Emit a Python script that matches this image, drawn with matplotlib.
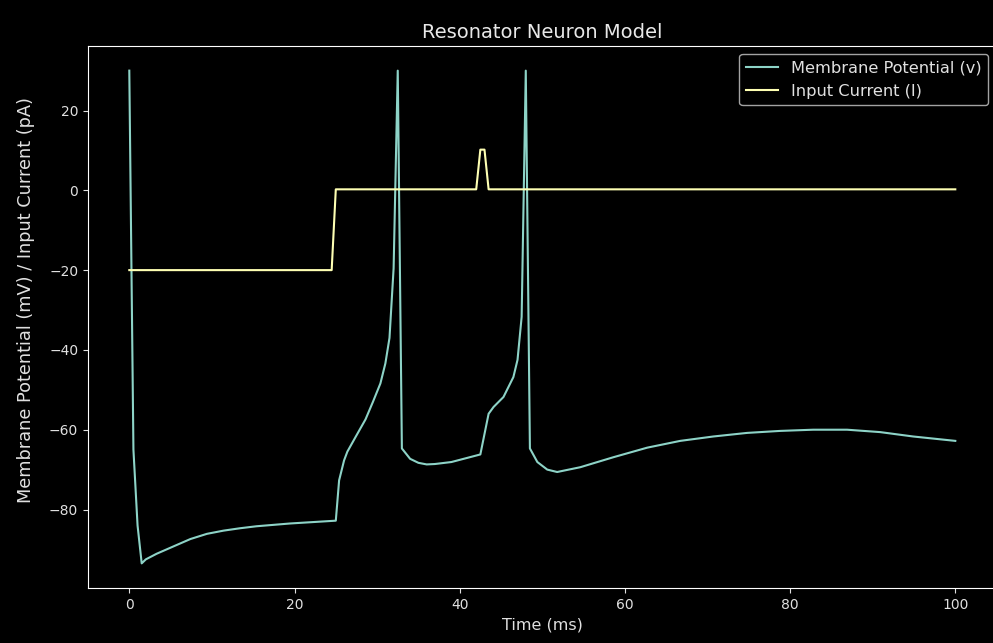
import matplotlib
matplotlib.use("Agg")
import matplotlib.pyplot as plt

plt.style.use("dark_background")

# Membrane potential (mV)
t_v = [0, 0.5, 1.0, 1.5, 2.0, 3.3, 5.4, 7.4, 9.4, 11.4, 13.4, 15.4, 19.5, 25.0,
       25.4, 26.0, 26.4, 27.4, 28.6, 29.5, 30.4, 31.0, 31.5, 32.0, 32.5,
       33.0, 34.0, 35.0, 36.0, 37.0, 39.0, 42.5, 43.5, 44.1, 45.3, 46.5, 47.0, 47.5, 48.0,
       48.5, 49.4, 50.6, 51.8, 54.6, 58.6, 62.7, 66.7, 70.7, 74.8, 78.8, 82.8,
       86.9, 90.9, 94.9, 100.0]
v = [30, -65, -84, -93.5, -92.5, -91.1, -89.2, -87.4, -86.1, -85.3, -84.7, -84.2, -83.5, -82.8,
     -72.7, -67.7, -65.5, -61.8, -57.4, -53.0, -48.4, -43.4, -37.0, -19.5, 30,
     -64.7, -67.3, -68.3, -68.7, -68.6, -68.1, -66.2, -56.0, -54.3, -51.8, -46.8, -42.5, -31.7, 30,
     -64.7, -68.1, -70.0, -70.6, -69.4, -66.9, -64.5, -62.8, -61.7, -60.8, -60.3, -60.0,
     -60.0, -60.6, -61.7, -62.8]

# Input current (pA)
t_i = [0, 24.5, 25.0, 42.0, 42.5, 43.0, 43.5, 100.0]
current = [-20, -20, 0.25, 0.25, 10.2, 10.2, 0.25, 0.25]

title = "Resonator Neuron Model"
xlabel = "Time (ms)"
ylabel = "Membrane Potential (mV) / Input Current (pA)"
labels = ["Membrane Potential (v)", "Input Current (I)"]

fig = plt.figure(figsize=(9.93, 6.43), dpi=100)
ax = fig.add_axes([88 / 993, 55 / 643, 908.6 / 993, 542 / 643])
ax.plot(t_v, v, label=labels[0], linewidth=1.5)
ax.plot(t_i, current, label=labels[1], linewidth=1.5)
ax.spines["right"].set_visible(False)
ax.set_title(title, fontsize=14, color="#e8e8e8")
ax.set_xlabel(xlabel, fontsize=11.5, color="#e0e0e0")
ax.set_ylabel(ylabel, fontsize=12.8, color="#e0e0e0")
ax.yaxis.set_label_coords(-0.058, 0.531)
ax.tick_params(colors="#e0e0e0", labelsize=10)
ax.legend(loc="upper right", fontsize=11.7, labelcolor="#e0e0e0")

fig.savefig("out.png", dpi=100)
